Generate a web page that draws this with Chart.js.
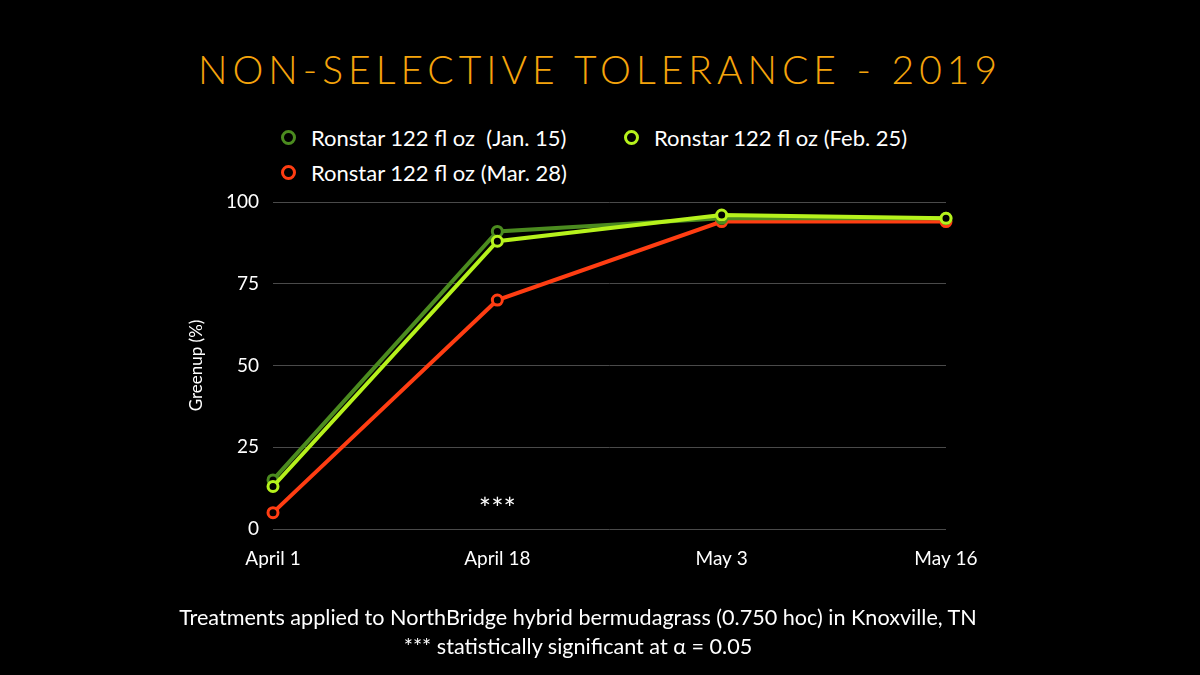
<!DOCTYPE html>
<html lang="en">
<head>
    <meta charset="UTF-8">
    <title>Non-Selective Tolerance - 2019</title>
    <script src="https://cdn.jsdelivr.net/npm/chart.js"></script>
    <style>
        body {
            margin: 0;
            width: 1200px;
            height: 675px;
            background: #000;
            font-family: Lato, "Open Sans", sans-serif;
            color: #fff;
            position: relative;
            overflow: hidden;
        }

        .title {
            position: absolute;
            top: 46px;
            left: 0;
            width: 1200px;
            text-align: center;
            font-size: 39px;
            font-weight: 300;
            letter-spacing: 5px;
            color: #f5a40c;
        }

        .legend {
            position: absolute;
            top: 123px;
            left: 281px;
            display: grid;
            grid-template-columns: 343px auto;
            row-gap: 7px;
        }

        .legend-item {
            display: flex;
            align-items: center;
            font-size: 22px;
            height: 28px;
        }

        .legend-item span.dot {
            width: 9px;
            height: 9px;
            border-radius: 50%;
            border: 3px solid;
            background: #000;
            margin-right: 15px;
        }

        .notes {
            position: absolute;
            top: 603px;
            left: -22px;
            width: 1200px;
            text-align: center;
            font-size: 21.6px;
            line-height: 29px;
        }

        canvas {
            position: absolute;
            left: 0;
            top: 0;
        }
    </style>
</head>
<body>
    <div class="title">NON-SELECTIVE TOLERANCE - 2019</div>
    <div class="legend" id="legend"></div>
    <canvas id="greenupChart" width="1200" height="675"></canvas>
    <div class="notes">
        Treatments applied to NorthBridge hybrid bermudagrass (0.750 hoc) in Knoxville, TN<br>
        *** statistically significant at &alpha; = 0.05
    </div>

    <script>
        // Data
        const dates = ['April 1', 'April 18', 'May 3', 'May 16'];
        const seriesNames = ['Ronstar 122 fl oz  (Jan. 15)', 'Ronstar 122 fl oz (Feb. 25)', 'Ronstar 122 fl oz (Mar. 28)'];
        const jan15 = [15, 91, 95, 95];
        const feb25 = [13, 88, 96, 95];
        const mar28 = [5, 70, 94, 94];
        const yTicks = [0, 25, 50, 75, 100];
        const sigMarks = ['', '***', '', ''];
        const sigLevel = 6;

        const colors = ['#4b8b1f', '#b6f21c', '#ff3d12'];
        const values = [jan15, feb25, mar28];
        const drawOrder = [1, 0, 2];

        // legend in HTML, laid out like the slide
        const legendEl = document.getElementById('legend');
        seriesNames.forEach((name, i) => {
            const item = document.createElement('div');
            item.className = 'legend-item';
            item.innerHTML = '<span class="dot" style="border-color:' + colors[i] + '"></span>' + name.replace(/ /g, '&nbsp;');
            legendEl.appendChild(item);
        });

        // draws the *** note at its category
        const sigPlugin = {
            id: 'sigMarks',
            afterDatasetsDraw(chart) {
                const { ctx, scales } = chart;
                ctx.save();
                ctx.fillStyle = '#fff';
                ctx.font = '29px Lato, sans-serif';
                ctx.textAlign = 'center';
                ctx.textBaseline = 'middle';
                sigMarks.forEach((m, i) => {
                    if (!m) return;
                    ctx.fillText(m, scales.x.getPixelForValue(i), scales.y.getPixelForValue(sigLevel));
                });
                ctx.restore();
            }
        };

        Chart.defaults.font.family = 'Lato, sans-serif';
        Chart.defaults.color = '#fff';

        new Chart(document.getElementById('greenupChart'), {
            type: 'line',
            data: {
                labels: dates,
                datasets: seriesNames.map((name, i) => ({
                    label: name,
                    data: values[i],
                    borderColor: colors[i],
                    backgroundColor: '#000',
                    borderWidth: 4,
                    pointRadius: 5,
                    pointBorderWidth: 3,
                    pointBackgroundColor: '#000',
                    pointBorderColor: colors[i],
                    tension: 0,
                    order: drawOrder[i]
                }))
            },
            options: {
                responsive: false,
                animation: false,
                layout: {
                    padding: { left: 186, right: 254, top: 202, bottom: 106 }
                },
                plugins: {
                    legend: { display: false },
                    tooltip: { enabled: false }
                },
                scales: {
                    x: {
                        offset: false,
                        grid: { display: false },
                        border: { display: false },
                        ticks: { font: { size: 19 }, color: '#fff', padding: 10 },
                        afterFit(scale) { scale.height = 40; }
                    },
                    y: {
                        min: 0,
                        max: 100,
                        afterBuildTicks(scale) { scale.ticks = yTicks.map(v => ({ value: v })); },
                        grid: { color: '#4a4a4a', lineWidth: 1, drawTicks: false },
                        border: { display: false },
                        ticks: { font: { size: 19 }, color: '#fff', padding: 14 },
                        title: {
                            display: true,
                            text: 'Greenup (%)',
                            color: '#fff',
                            font: { size: 17 },
                            padding: 0
                        },
                        afterFit(scale) { scale.width = 87; }
                    }
                }
            },
            plugins: [sigPlugin]
        });
    </script>
</body>
</html>
